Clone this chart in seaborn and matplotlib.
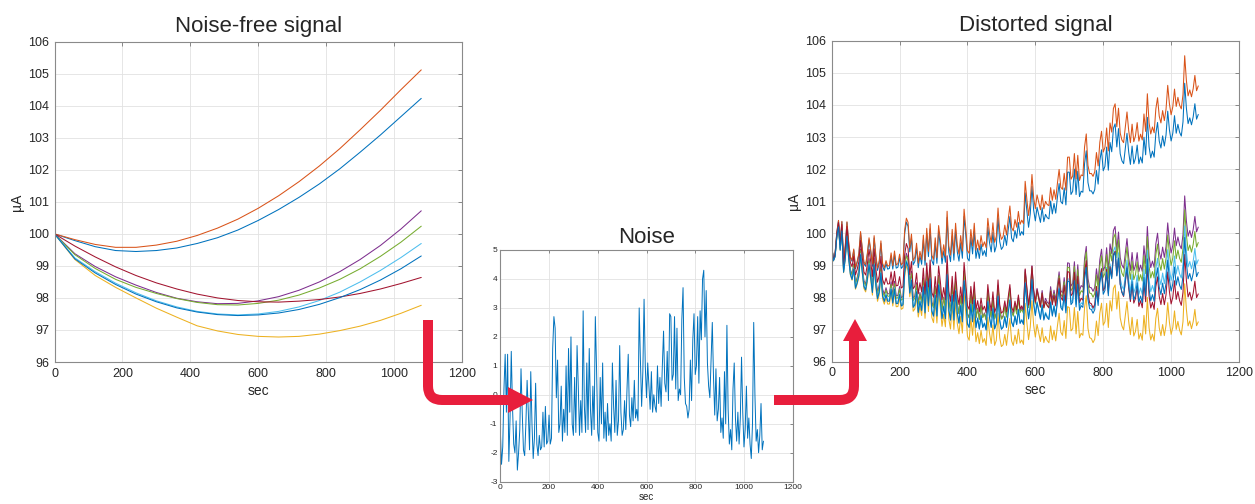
import numpy as np
import pandas as pd
import seaborn as sns
import matplotlib.pyplot as plt
from matplotlib.path import Path
from matplotlib.patches import PathPatch, Polygon

# Sample times (sec)
t_clean = np.arange(0, 1081, 60)
t_noise = np.arange(0, 1081, 5)

# Noise-free traces (uA), in MATLAB line order
blue_top = [100.00, 99.79, 99.60, 99.48, 99.45, 99.48, 99.56, 99.70, 99.88, 100.12,
            100.42, 100.76, 101.14, 101.56, 102.03, 102.55, 103.09, 103.66, 104.23]
orange = [100.00, 99.82, 99.67, 99.58, 99.58, 99.65, 99.77, 99.95, 100.18, 100.46,
          100.80, 101.19, 101.63, 102.12, 102.66, 103.25, 103.86, 104.50, 105.12]
yellow = [100.00, 99.20, 98.70, 98.33, 98.00, 97.68, 97.40, 97.13, 96.97, 96.86,
          96.80, 96.78, 96.80, 96.87, 96.98, 97.12, 97.30, 97.52, 97.77]
purple = [100.00, 99.38, 98.98, 98.66, 98.40, 98.17, 97.99, 97.88, 97.82, 97.83,
          97.91, 98.04, 98.24, 98.50, 98.82, 99.20, 99.64, 100.15, 100.72]
green = [100.00, 99.35, 98.92, 98.58, 98.33, 98.14, 97.98, 97.86, 97.79, 97.78,
         97.83, 97.93, 98.09, 98.31, 98.58, 98.91, 99.30, 99.74, 100.24]
light_blue = [100.00, 99.25, 98.82, 98.46, 98.16, 97.91, 97.72, 97.58, 97.50, 97.47,
              97.50, 97.58, 97.72, 97.92, 98.18, 98.50, 98.86, 99.26, 99.70]
maroon = [100.00, 99.62, 99.28, 98.97, 98.70, 98.47, 98.28, 98.12, 98.00, 97.92,
          97.88, 97.87, 97.90, 97.95, 98.03, 98.14, 98.28, 98.45, 98.64]
blue_low = [100.00, 99.22, 98.78, 98.42, 98.12, 97.88, 97.69, 97.56, 97.48, 97.45,
            97.47, 97.53, 97.64, 97.80, 98.01, 98.26, 98.56, 98.91, 99.31]

# Noise trace, one value every 5 sec (one row = 100 sec)
noise = [-1.2, -2.4, -1.8, 0.2, 1.4, -0.6, 1.4, -2.3, -0.8, 1.5, -0.4, -1.7, -2.0, -0.9, -2.6, -2.0, -1.2, 0.9, -0.6, -1.9,
         -2.1, -1.0, 0.5, -0.6, -1.9, 0.8, -1.0, -2.2, -1.5, 0.4, -1.7, -2.1, -1.4, -1.9, -1.8, -0.6, -1.8, -0.4, -1.7, -1.6,
         -0.7, -1.7, -1.5, 1.6, 2.7, 2.3, -0.1, 1.2, -1.3, -1.0, 0.3, -1.6, -0.5, -1.3, 1.0, -1.4, 1.6, -0.6, 2.0, -1.0,
         -1.4, 0.6, -1.3, 1.7, 0.3, -1.4, -0.2, -1.3, 2.9, -0.4, -1.3, 1.1, -1.2, 1.6, -0.5, -1.4, 0.3, -1.2, 2.7, 0.9,
         -1.3, -1.6, 0.6, -1.0, 1.1, -1.5, -0.6, -1.6, -0.3, -1.4, -1.0, -1.6, 1.1, -0.4, -1.3, 0.5, -1.4, -0.9, 1.7, -0.6,
         -1.4, -1.2, -0.2, -1.2, 0.2, 1.4, -0.7, -1.1, -0.1, -0.9, 0.5, -0.8, -0.5, -0.9, 3.0, 1.2, -0.4, 0.8, 3.3, 1.0,
         -0.1, 1.1, 0.3, -0.5, 0.8, -0.6, 0.0, -0.4, -0.6, 1.0, -0.3, 0.6, -0.4, 1.0, 2.2, 0.4, 0.1, 1.5, -0.2, 2.8,
         2.7, 0.5, 0.7, 2.7, 0.2, 2.3, -0.2, 0.2, 0.0, 2.6, 3.7, 0.6, -0.3, -0.4, -0.8, -0.5, 1.2, -0.2, 1.9, 2.8,
         0.7, 1.0, 2.7, 0.4, 2.9, 1.9, 4.0, 4.3, 2.0, 3.6, 1.1, 0.3, -0.1, 1.2, 2.5, 0.6, -0.7, 0.9, -0.9, -0.5,
         0.6, -1.3, -0.8, -1.5, 0.8, -1.0, 2.4, -0.5, -1.7, -1.2, -1.9, 0.2, 1.1, -0.8, -1.6, -0.6, -1.7, -0.8, 1.3, -0.6,
         -1.8, -1.2, 0.3, -1.5, -0.8, -1.7, -2.2, -1.0, 2.5, 0.0, -1.6, -1.2, -2.0, -1.4, -0.3, -1.9, -1.6]
noise_gain = 0.33  # uA of distortion per unit of noise

series = {"s1": blue_top, "s2": orange, "s3": yellow, "s4": purple,
          "s5": green, "s6": light_blue, "s7": maroon, "s8": blue_low}
palette = {"s1": "#0072BD", "s2": "#D95319", "s3": "#EDB120", "s4": "#7E2F8E",
           "s5": "#77AC30", "s6": "#4DBEEE", "s7": "#A2142F", "s8": "#0072BD"}

clean_df = pd.concat([pd.DataFrame({"t": t_clean, "uA": v, "line": k})
                      for k, v in series.items()], ignore_index=True)
dist_df = pd.concat([pd.DataFrame({"t": t_noise,
                                   "uA": np.interp(t_noise, t_clean, v) + noise_gain * np.array(noise),
                                   "line": k})
                     for k, v in series.items()], ignore_index=True)
noise_df = pd.DataFrame({"t": t_noise, "noise": noise})

sns.set_style("white")
plt.rcParams["font.family"] = ["Liberation Sans", "DejaVu Sans"]
plt.rcParams["axes.unicode_minus"] = False

W, H = 1255, 504
fig = plt.figure(figsize=(W / 100, H / 100), dpi=100)


def px_axes(x0, y0, x1, y1):
    # axes box given in figure pixels, origin top-left
    return fig.add_axes([x0 / W, 1 - y1 / H, (x1 - x0) / W, (y1 - y0) / H])


def style_axes(ax, yticks, fs):
    ax.set_xlim(0, 1200)
    ax.set_xticks(range(0, 1201, 200))
    ax.set_ylim(yticks[0], yticks[-1])
    ax.set_yticks(yticks)
    ax.grid(True, color="#e2e2e2", lw=0.6)
    ax.set_axisbelow(True)
    ax.tick_params(direction="in", top=True, right=True, length=3, width=0.6,
                   color="#777777", labelsize=fs, labelcolor="#262626", pad=4)
    for sp in ax.spines.values():
        sp.set_visible(True)
        sp.set_color("#8a8a8a")
        sp.set_linewidth(0.8)


ax1 = px_axes(54.5, 41.7, 462, 362)
sns.lineplot(data=clean_df, x="t", y="uA", hue="line", palette=palette,
             estimator=None, sort=False, lw=0.75, legend=False, ax=ax1)
style_axes(ax1, list(range(96, 107)), 9)
ax1.set_title("Noise-free signal", fontsize=16, pad=7)
ax1.set_xlabel("sec", fontsize=10, color="#262626", labelpad=3)
ax1.set_ylabel("µA", fontsize=10, color="#262626", labelpad=3)

ax2 = px_axes(500.3, 250, 792.7, 481.7)
sns.lineplot(data=noise_df, x="t", y="noise", color="#0072BD", lw=0.7,
             estimator=None, sort=False, ax=ax2)
style_axes(ax2, list(range(-3, 6)), 6)
ax2.tick_params(length=2, pad=2)
ax2.set_title("Noise", fontsize=16, pad=5)
ax2.set_xlabel("sec", fontsize=7, color="#262626", labelpad=0.5)
ax2.set_ylabel("")

ax3 = px_axes(831.7, 40.7, 1239, 361.7)
sns.lineplot(data=dist_df, x="t", y="uA", hue="line", palette=palette,
             estimator=None, sort=False, lw=0.75, legend=False, ax=ax3)
style_axes(ax3, list(range(96, 107)), 9)
ax3.set_title("Distorted signal", fontsize=16, pad=7)
ax3.set_xlabel("sec", fontsize=10, color="#262626", labelpad=3)
ax3.set_ylabel("µA", fontsize=10, color="#262626", labelpad=3)

# red connector arrows, drawn in pixel space on top of everything
ov = fig.add_axes([0, 0, 1, 1], zorder=10)
ov.set_xlim(0, W)
ov.set_ylim(H, 0)
ov.axis("off")
ov.patch.set_alpha(0)
red = "#E81E3C"
arrow_lw = 10 * 72 / 100

p1 = Path([(428, 320), (428, 386), (428, 400), (442, 400), (510, 400)],
          [Path.MOVETO, Path.LINETO, Path.CURVE3, Path.CURVE3, Path.LINETO])
ov.add_patch(PathPatch(p1, fill=False, ec=red, lw=arrow_lw, capstyle="butt", joinstyle="round"))
ov.add_patch(Polygon([(508, 387), (533, 400), (508, 413)], closed=True, fc=red, ec="none"))

p2 = Path([(774, 400), (840, 400), (854, 400), (854, 386), (854, 338)],
          [Path.MOVETO, Path.LINETO, Path.CURVE3, Path.CURVE3, Path.LINETO])
ov.add_patch(PathPatch(p2, fill=False, ec=red, lw=arrow_lw, capstyle="butt", joinstyle="round"))
ov.add_patch(Polygon([(843, 341), (855, 319), (867, 341)], closed=True, fc=red, ec="none"))

fig.savefig("out.png", dpi=100, facecolor="white")
